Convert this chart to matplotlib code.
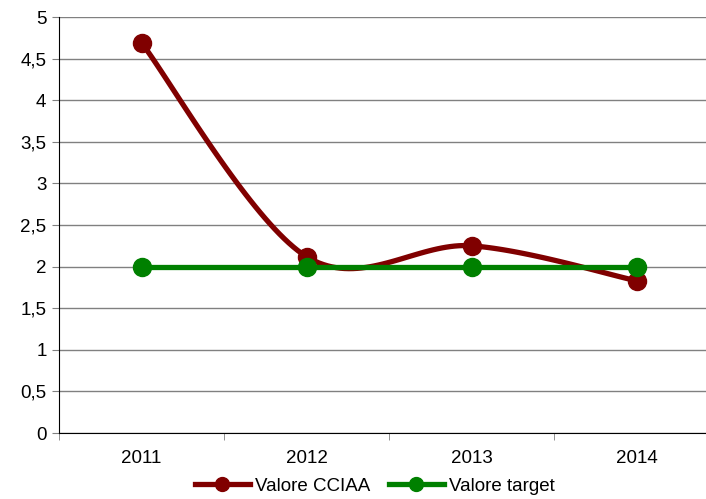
import numpy as np
import matplotlib
matplotlib.use('Agg')
import matplotlib.pyplot as plt
from matplotlib.ticker import FuncFormatter

years = ['2011', '2012', '2013', '2014']
valore_cciaa = [4.69, 2.12, 2.25, 1.83]
valore_target = [2, 2, 2, 2]

plt.rcParams['font.family'] = ['Liberation Sans', 'DejaVu Sans']


def smooth(xs, ys, n=40):
    # Excel-style smoothed line (Bezier through the points)
    pts = np.column_stack([xs, ys]).astype(float)
    padded = np.vstack([pts[0], pts, pts[-1]])
    out = [pts[0]]
    t = np.linspace(0, 1, n)[1:, None]
    for i in range(len(pts) - 1):
        p0, p1, p2, p3 = padded[i], padded[i + 1], padded[i + 2], padded[i + 3]
        c1 = p1 + (p2 - p0) / 6
        c2 = p2 - (p3 - p1) / 6
        seg = ((1 - t) ** 3) * p1 + 3 * ((1 - t) ** 2) * t * c1 + 3 * (1 - t) * t ** 2 * c2 + t ** 3 * p2
        out.extend(seg)
    out = np.array(out)
    return out[:, 0], out[:, 1]


fig = plt.figure(figsize=(7.06, 4.99), dpi=100)
ax = fig.add_axes([59 / 706, 66 / 499, 660 / 706, 416 / 499])

x = np.arange(len(years))
red = '#800000'
green = '#008000'

sx, sy = smooth(x, valore_cciaa)
ax.plot(sx, sy, color=red, lw=3.8, solid_capstyle='round', zorder=3)
ax.plot(x, valore_cciaa, 'o', color=red, ms=13, zorder=4)
ax.plot(x, valore_target, color=green, lw=3.8, marker='o', ms=13, zorder=5)

ax.set_xlim(-0.5, 3.5)
ax.set_ylim(0, 5)
ax.set_yticks(np.arange(0, 5.01, 0.5))
ax.yaxis.set_major_formatter(FuncFormatter(lambda v, _: ('%g' % v).replace('.', ',')))
ax.set_xticks(x)
ax.set_xticklabels(years)
ax.set_xticks([-0.5, 0.5, 1.5, 2.5], minor=True)
ax.tick_params(axis='x', which='major', length=0, pad=12, labelsize=13.5)
ax.tick_params(axis='x', which='minor', length=5, color='#808080')
ax.tick_params(axis='y', length=5, labelsize=13.5, pad=4, color='#808080')

ax.grid(axis='y', color='#808080', lw=1)
ax.set_axisbelow(True)
for side in ['top', 'right']:
    ax.spines[side].set_visible(False)
ax.spines['left'].set_color('black')
ax.spines['bottom'].set_color('black')

h1, = ax.plot([], [], color=red, lw=3.8, marker='o', ms=10)
h2, = ax.plot([], [], color=green, lw=3.8, marker='o', ms=10)
fig.legend([h1, h2], ['Valore CCIAA', 'Valore target'], loc='center',
           bbox_to_anchor=(375 / 706, 1 - 486 / 499), ncol=2, frameon=False,
           fontsize=13.5, handlelength=2.9, handletextpad=0.3, columnspacing=1.0)

fig.savefig('out.png', dpi=100)
